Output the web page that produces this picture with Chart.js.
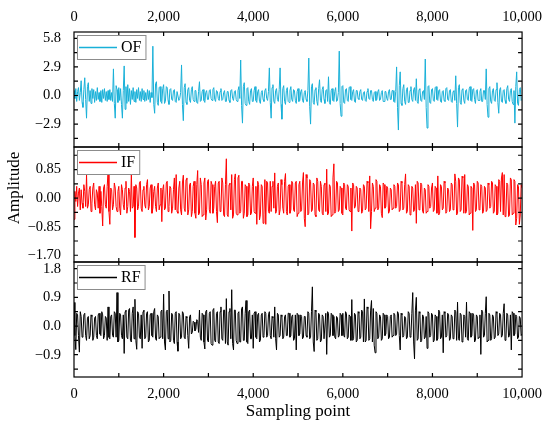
<!DOCTYPE html>
<html>
<head>
<meta charset="utf-8">
<title>Amplitude</title>
<script src="https://cdn.jsdelivr.net/npm/chart.js@4.4.1/dist/chart.umd.min.js"></script>
<style>
  html, body { margin: 0; padding: 0; background: #fff; }
  #senales { display: block; }
</style>
</head>
<body>
<canvas id="senales" width="550" height="426"></canvas>
<script>
// Señales (un valor cada 20 puntos de muestreo)
const pasoMuestreo = 20;

const valoresOF = [
  0.5, -0.3, 0.7, -0.6, 0.4, 0.8, -0.5, 0.3, 1.5, -0.7,
  -1.2, 0.6, 1.8, -0.4, -2.3, 0.9, 1.3, -0.6, 0.5, -0.8,
  0.7, -0.3, 0.6, -0.7, 0.4, -0.5, 0.8, -0.4, 0.3, -0.6,
  0.5, -0.7, 0.6, -0.3, 0.7, -0.5, 0.4, -0.6, 0.5, -0.4,
  0.6, -0.5, 0.3, -0.6, 2.7, -0.8, -2.3, 1.0, 0.6, -0.7,
  0.8, -0.5, 0.7, -0.9, -2.3, 0.5, 3.0, -1.4, 0.9, -0.8,
  1.1, -0.6, 0.7, -0.9, 0.5, -0.4, 0.8, -0.6, 0.4, -0.7,
  0.6, -0.3, 0.8, -0.5, 0.4, -0.6, 0.7, -0.4, 0.5, -0.6,
  0.3, -0.5, 0.6, -0.4, 0.5, -0.7, 0.3, -0.2, 5.0, -0.9,
  -1.8, 1.2, 1.4, -0.7, -1.0, 0.8, 0.9, -0.6, -0.8, 0.7,
  1.1, -0.8, -0.6, 0.9, 0.8, -0.5, -0.9, 0.6, 0.7, -0.4,
  -0.5, 0.5, 0.6, -0.6, -0.7, 0.4, 0.4, -0.5, -0.3, 0.3,
  3.1, -0.9, -2.55, 0.8, 1.2, -0.7, -0.9, 0.6, 0.8, -0.5,
  -0.7, 0.6, 0.9, -0.4, -0.6, 0.5, 0.5, -0.7, -0.8, 0.4,
  1.4, -0.6, -0.5, 0.4, 0.6, -0.5, -0.7, 0.3, 0.5, -0.4,
  -0.4, 0.5, 0.6, -0.3, -0.5, 0.6, 0.8, -0.4, -0.6, 0.5,
  0.4, -0.3, -0.5, 0.4, 0.7, -0.5, -0.4, 0.3, 0.5, -0.6,
  -0.6, 0.4, 0.4, -0.5, -0.7, 0.5, 0.6, -0.3, -0.5, 0.4,
  0.5, -0.4, -0.6, 0.5, 0.9, -0.3, 3.6, -1.0, -2.8, 0.9,
  1.3, -0.8, -1.0, 0.7, 0.8, -0.6, -0.9, 0.5, 0.7, -0.6,
  -0.6, 0.5, 0.9, -0.5, -0.7, 0.4, 0.6, -0.6, -0.8, 0.3,
  0.5, -0.4, -0.6, 0.5, 0.7, -0.3, -0.5, 0.4, 2.8, -0.7,
  -2.3, 0.8, 1.1, -0.6, -0.8, 0.5, 0.7, -0.4, -0.6, 0.6,
  2.8, -0.9, -2.4, 0.7, 1.0, -0.6, -0.9, 0.5, 0.8, -0.6,
  -0.7, 0.5, 0.9, -0.4, -0.6, 0.6, 0.5, -0.5, -0.8, 0.4,
  0.7, -0.6, -0.5, 0.4, 0.6, -0.5, -0.7, 0.3, 0.5, -0.4,
  -0.6, 0.5, 3.8, -1.1, -2.9, 0.9, 1.2, -0.7, -0.9, 0.6,
  0.8, -0.6, -1.0, 0.7, 1.6, -0.5, -0.7, 0.6, 0.9, -0.4,
  -0.8, 0.5, 0.6, -0.6, 1.9, -0.7, -0.9, 0.5, 0.7, -0.5,
  -0.6, 0.4, 0.8, -0.6, -0.5, 0.3, 4.5, -0.8, -2.1, 0.9,
  1.0, -0.7, -0.8, 0.6, 0.7, -0.5, -0.6, 0.8, 0.9, -0.4,
  -0.5, 0.4, 0.6, -0.6, -0.7, 0.5, 0.5, -0.3, -0.4, 0.4,
  0.6, -0.4, -0.5, 0.3, 0.4, -0.5, -0.6, 0.4, 0.7, -0.3,
  -0.4, 0.5, 0.5, -0.4, -0.6, 0.3, 0.4, -0.5, -0.4, 0.4,
  0.6, -0.5, -0.4, 0.3, 0.5, -0.6, -0.6, 0.4, 0.4, -0.3,
  -0.5, 0.4, 0.6, -0.4, -0.4, 0.5, 0.5, -0.6, -0.7, 0.4,
  2.9, -1.2, -3.5, 1.0, 2.4, -0.8, -1.0, 0.7, 1.1, -0.6,
  -0.9, 0.6, 0.8, -0.7, -0.7, 0.5, 0.9, -0.4, -0.6, 0.6,
  0.8, -0.5, 1.7, -0.6, -0.8, 0.6, 0.7, -0.5, -0.6, 0.4,
  0.5, -0.4, 3.7, -1.2, -3.3, 0.9, 1.0, -0.7, -0.8, 0.6,
  0.7, -0.5, -0.6, 0.8, 0.9, -0.4, -0.5, 0.5, 0.6, -0.6,
  -0.7, 0.4, 0.5, -0.5, -0.6, 0.7, 0.8, -0.4, -0.5, 0.5,
  0.6, -0.6, -0.7, 0.4, 0.5, -0.5, 2.0, -0.8, -3.2, 0.8,
  1.1, -0.7, -0.9, 0.6, 0.7, -0.5, -0.8, 0.5, 0.6, -0.4,
  -0.5, 0.7, 0.9, -0.5, -0.6, 0.6, 0.7, -0.4, -0.8, 0.5,
  0.6, -0.5, -0.5, 0.4, 0.7, -0.6, -0.6, 0.5, 0.5, -0.4,
  2.7, -0.9, -2.2, 0.7, 0.9, -0.6, -0.8, 0.5, 0.7, -0.5,
  -0.6, 0.6, 1.3, -0.7, -1.8, 0.6, 0.8, -0.6, -0.7, 0.5,
  0.6, -0.5, -0.8, 0.7, 1.0, -0.4, -0.6, 0.5, 0.7, -0.6,
  -0.9, 0.5, -2.8, 0.9, 2.4, -0.8, -1.0, 0.6, 0.8, -0.5,
  -0.4
];

const valoresIF = [
  -0.63, 0.2, -0.1, 0.35, -0.25, 0.15, 0.3, -0.35, 0.25, -0.15,
  -0.3, 0.4, 0.2, -0.25, 0.69, -0.3, -0.2, 0.25, 0.35, -0.4,
  -0.15, 0.3, 0.45, -0.2, -0.35, 0.25, 0.15, -0.3, 0.35, -0.45,
  0.2, -0.25, -0.83, 0.3, 0.4, -0.2, -0.3, 0.35, 0.74, -0.4,
  -0.78, 0.3, 0.25, -0.35, -0.2, 0.45, 0.3, -0.25, -0.4, 0.2,
  0.35, -0.3, -0.5, 0.4, 0.25, -0.2, -0.35, 0.3, 0.5, -0.45,
  -0.25, 0.3, 0.2, -0.4, 0.74, -0.3, -0.25, 0.35, -1.17, 0.4,
  0.3, -0.35, -0.25, 0.45, 0.5, -0.3, -0.4, 0.25, 0.35, -0.2,
  -0.3, 0.4, 0.55, -0.35, -0.25, 0.3, 0.4, -0.45, -0.3, 0.2,
  0.35, -0.25, -0.4, 0.3, 0.45, -0.35, -0.2, 0.3, -0.7, 0.25,
  0.4, -0.35, -0.3, 0.45, 0.5, -0.4, -0.25, 0.35, 0.3, -0.45,
  -0.3, 0.25, 0.6, -0.35, 0.7, -0.4, -0.45, 0.3, 0.5, -0.35,
  -0.5, 0.45, 0.68, -0.3, -0.4, 0.55, 0.6, -0.5, -0.35, 0.4,
  0.45, -0.55, -0.4, 0.35, 0.5, -0.45, -0.6, 0.4, 0.82, -0.5,
  -0.45, 0.6, 0.4, -0.55, -0.5, 0.45, 0.6, -0.65, -0.35, 0.5,
  0.55, -0.35, -0.45, 0.5, 0.4, -0.45, -0.3, 0.35, 0.5, -0.4,
  -0.73, 0.45, 0.5, -0.4, -0.35, 0.6, 0.45, -0.5, -0.55, 0.4,
  1.17, -0.5, -0.55, 0.4, 0.45, -0.35, 0.7, -0.6, -0.5, 0.55,
  0.72, -0.45, -0.5, 0.6, 0.68, -0.45, -0.4, 0.5, 0.5, -0.6,
  -0.45, 0.4, 0.35, -0.55, -0.5, 0.45, 0.4, -0.5, -0.45, 0.35,
  0.6, -0.4, -0.45, 0.35, -0.78, 0.5, 0.4, -0.65, -0.5, 0.4,
  0.35, -0.75, -0.5, 0.55, -0.78, 0.5, 0.45, -0.4, -0.45, 0.5,
  -0.4, 0.35, 0.5, -0.3, 0.75, -0.45, -0.4, 0.35, 0.45, -0.5,
  -0.35, 0.55, 0.4, -0.3, -0.45, 0.5, 0.73, -0.4, -0.5, 0.35,
  0.4, -0.45, -0.35, 0.5, 0.45, -0.35, -0.4, 0.45, 0.5, -0.55,
  -0.45, 0.4, 0.5, -0.4, -0.35, 0.45, 0.76, -0.6, -0.85, 0.7,
  0.6, -0.5, -0.45, 0.55, 0.5, -0.4, -0.35, 0.45, 0.4, -0.5,
  -0.55, 0.6, 0.5, -0.35, -0.4, 0.5, 0.35, -0.45, -0.5, 0.4,
  0.45, -0.4, 0.86, -0.5, -0.45, 0.4, 0.35, -0.55, -0.5, 0.6,
  1.02, -0.45, -0.4, 0.5, 0.45, -0.4, -0.35, 0.35, 0.3, -0.45,
  -0.5, 0.45, 0.4, -0.3, -0.35, 0.4, 0.35, -0.35, -0.4, 0.3,
  -0.98, 0.45, 0.4, -0.3, -0.25, 0.35, 0.3, -0.4, -0.35, 0.3,
  0.25, -0.45, -0.4, 0.4, 0.35, -0.35, -0.3, 0.5, 0.45, -0.4,
  0.66, -0.91, -0.4, 0.45, 0.35, -0.4, -0.3, 0.55, 0.5, -0.35,
  -0.3, 0.4, 0.35, -0.45, -0.58, 0.45, 0.4, -0.3, -0.25, 0.35,
  0.3, -0.45, -0.4, 0.3, 0.25, -0.35, -0.3, 0.4, 0.35, -0.3,
  -0.25, 0.45, 0.4, -0.4, -0.35, 0.5, 0.45, -0.35, -0.3, 0.4,
  0.72, -0.45, -0.4, 0.4, 0.35, -0.5, -0.45, 0.35, 0.3, -0.4,
  -0.35, 0.4, -0.75, 0.5, 0.45, -0.35, -0.3, 0.45, 0.4, -0.4,
  -0.45, 0.3, 0.25, -0.45, -0.4, 0.4, 0.35, -0.3, -0.25, 0.3,
  0.45, -0.4, -0.35, 0.35, 0.3, -0.45, 0.66, -0.5, -0.45, 0.4,
  0.35, -0.35, -0.3, 0.5, 0.45, -0.45, -0.4, 0.3, 0.25, -0.4,
  -0.35, 0.45, 0.4, -0.35, -0.3, 0.72, 0.5, -0.5, -0.45, 0.6,
  0.55, -0.4, -0.35, 0.65, 0.6, -0.45, 0.7, -0.45, -0.4, 0.4,
  0.35, -0.5, -0.45, 0.35, 0.3, -0.96, 0.45, 0.4, -0.4, -0.35,
  0.5, 0.45, -0.35, -0.3, 0.4, 0.35, -0.45, -0.4, 0.35, 0.3,
  -0.4, -0.35, 0.45, 0.4, -0.3, -0.25, 0.5, 0.45, -0.45, -0.4,
  0.4, 0.35, -0.5, -0.45, 0.55, 0.5, -0.4, 0.6, 0.76, -0.5,
  0.7, -0.55, -0.5, 0.45, 0.4, -0.55, -0.5, 0.6, 0.55, -0.5,
  -0.45, 0.55, 0.5, -0.8, -0.6, 0.4, 0.35, -0.78, -0.5, 0.4,
  0.3
];

const valoresRF = [
  0.74, -0.3, -0.74, 0.4, 0.35, -0.3, -0.82, 0.45, 0.3, -0.35,
  -0.25, 0.35, 0.4, -0.3, -0.45, 0.25, 0.3, -0.4, -0.3, 0.35,
  0.3, -0.45, -0.35, 0.25, 0.3, -0.3, -0.4, 0.35, 0.4, -0.25,
  -0.3, 0.45, 0.35, -0.4, -0.3, 0.3, 0.25, -0.45, 0.6, -0.35,
  -0.4, 0.3, 0.35, -0.3, -0.35, 0.45, 0.4, -0.35, 1.05, -0.5,
  -0.45, 0.4, 0.35, -0.3, -0.4, 0.35, -0.86, 0.45, 0.5, -0.35,
  -0.4, 0.5, 0.55, -0.45, -0.5, 0.4, 0.6, -0.4, 0.84, -0.45,
  -0.73, 0.45, 0.4, -0.35, -0.4, 0.35, -0.7, 0.45, 0.5, -0.4,
  -0.35, 0.4, 0.45, -0.5, -0.45, 0.35, 0.4, -0.3, -0.35, 0.45,
  0.55, -0.4, -0.45, 0.35, 0.3, -0.4, -0.35, 0.45, 0.5, -0.4,
  1.0, -0.5, -0.75, 0.45, 0.5, -0.4, 1.1, -0.5, -0.45, 0.4,
  0.35, -0.45, -0.55, 0.4, 0.45, -0.5, -0.79, 0.4, 0.35, -0.4,
  -0.35, 0.45, 0.4, -0.35, -0.4, 0.3, 0.25, -0.3, -0.7, 0.3,
  0.35, -0.25, -0.2, 0.15, 0.12, -0.15, -0.1, 0.2, 0.15, -0.2,
  0.5, -0.35, -0.45, 0.4, 0.35, -0.5, -0.72, 0.45, 0.5, -0.45,
  -0.5, 0.4, 0.45, -0.55, -0.6, 0.5, 0.55, -0.45, -0.5, 0.4,
  0.45, -0.5, -0.55, 0.45, 0.6, -0.4, -0.45, 0.5, 0.5, -0.55,
  0.86, -0.5, -0.6, 0.45, 0.55, -0.4, 1.14, -0.55, -0.75, 0.5,
  0.5, -0.45, -0.55, 0.4, 0.45, -0.5, -0.5, 0.55, 0.6, -0.45,
  -0.45, 0.4, 0.8, -0.5, -0.55, 0.45, 0.5, -0.4, -0.4, 0.35,
  -0.7, 0.4, 0.45, -0.35, -0.4, 0.35, 0.4, -0.5, -0.45, 0.35,
  0.4, -0.35, -0.3, 0.45, 0.4, -0.35, -0.3, 0.35, 0.45, -0.3,
  -0.4, 0.3, 0.25, -0.35, 0.6, -0.4, -0.75, 0.4, 0.35, -0.35,
  -0.3, 0.35, 0.3, -0.4, -0.35, 0.3, 0.35, -0.3, -0.3, 0.4,
  0.4, -0.35, -0.3, 0.3, 0.35, -0.45, -0.4, 0.35, -0.75, 0.4,
  0.35, -0.3, -0.25, 0.35, 0.3, -0.4, -0.35, 0.3, 0.3, -0.3,
  -0.35, 0.45, 0.4, -0.4, -0.35, 0.45, 1.23, -0.5, -0.8, 0.5,
  0.45, -0.45, -0.4, 0.4, 0.35, -0.5, -0.45, 0.35, 0.3, -0.4,
  -0.4, 0.4, -0.89, 0.45, 0.4, -0.35, -0.3, 0.4, 0.35, -0.3,
  0.3, -0.35, -0.4, 0.3, 0.25, -0.35, -0.3, 0.4, 0.35, -0.3,
  0.4, -0.3, -0.35, 0.45, 0.4, -0.4, -0.35, 0.35, 0.3, -0.45,
  0.83, -0.45, -0.4, 0.4, 0.35, -0.5, -0.45, 0.45, 0.4, -0.4,
  -0.35, 0.5, 0.45, -0.5, 0.85, -0.5, -0.45, 0.6, 0.55, -0.45,
  -0.4, 0.5, 0.8, -0.5, 0.55, -0.6, -0.84, 0.45, 0.4, -0.4,
  -0.35, 0.35, 0.3, -0.45, -0.4, 0.4, 0.35, -0.3, -0.25, 0.35,
  0.3, -0.4, -0.35, 0.3, 0.35, -0.35, -0.3, 0.4, 0.35, -0.3,
  -0.25, 0.45, 0.4, -0.3, -0.75, 0.4, 0.35, -0.35, -0.3, 0.3,
  0.25, -0.4, -0.35, 0.45, 0.4, -0.35, -0.3, 0.4, 1.05, -0.5,
  -1.03, 0.5, 0.9, -0.45, -0.4, 0.45, 0.4, -0.5, -0.45, 0.35,
  0.3, -0.4, -0.35, 0.3, -0.7, 0.45, 0.4, -0.35, -0.3, 0.4,
  0.35, -0.5, -0.45, 0.35, 0.3, -0.45, -0.4, 0.5, 0.45, -0.4,
  -0.35, 0.35, -0.84, 0.45, 0.4, -0.35, -0.3, 0.4, 0.35, -0.45,
  -0.4, 0.35, 0.3, -0.4, -0.35, 0.5, 0.45, -0.45, 0.75, -0.4,
  -0.45, 0.4, 0.35, -0.5, -0.45, 0.35, 0.3, -0.35, 0.75, -0.4,
  -0.45, 0.45, 0.4, -0.35, -0.3, 0.4, 0.35, -0.5, -0.45, 0.35,
  0.3, -0.4, -0.35, 0.35, -0.89, 0.5, 0.45, -0.35, -0.3, 0.4,
  0.92, -0.5, -0.45, 0.4, 0.35, -0.45, -0.4, 0.35, 0.3, -0.4,
  -0.35, 0.45, 0.4, -0.3, -0.25, 0.4, 0.35, -0.35, -0.3, 0.4,
  0.7, -0.45, -0.4, 0.4, 0.35, -0.35, -0.3, 0.35, -0.75, 0.45,
  0.4, -0.3, -0.25, 0.35, 0.3, -0.4, -0.35, 0.3, 0.25, -0.3,
  -0.25
];

// Etiquetas de los ejes
const xTicks = [0, 2000, 4000, 6000, 8000, 10000];
const ofTicks = [-2.9, 0.0, 2.9, 5.8];
const ifTicks = [-1.70, -0.85, 0.00, 0.85];
const rfTicks = [-0.9, 0.0, 0.9, 1.8];

const fuente = '"Liberation Serif", "Times New Roman", serif';
Chart.defaults.font.family = fuente;
Chart.defaults.color = '#000';

const aPuntos = valores => valores.map((v, i) => ({ x: i * pasoMuestreo, y: v }));
const signo = (v, dec) => v.toFixed(dec).replace('-', '\u2212');

// Paneles de arriba abajo
const paneles = [
  { id: 'yOF', nombre: 'OF', color: 'rgb(24,176,216)', datos: valoresOF, ticks: ofTicks, dec: 1, min: -5.22, max: 6.44, menor: 1.45 },
  { id: 'yIF', nombre: 'IF', color: '#ff0000', datos: valoresIF, ticks: ifTicks, dec: 2, min: -1.90, max: 1.52, menor: 0.425 },
  { id: 'yRF', nombre: 'RF', color: '#000000', datos: valoresRF, ticks: rfTicks, dec: 1, min: -1.60, max: 2.01, menor: 0.45 }
];

const ejeY = p => ({
  type: 'linear',
  position: 'left',
  stack: 'senal',
  stackWeight: 1,
  min: p.min,
  max: p.max,
  grid: { display: false, drawTicks: false },
  border: { display: false },
  afterBuildTicks: s => { s.ticks = p.ticks.map(v => ({ value: v })); },
  afterFit: s => { s.width = 74; },
  ticks: {
    padding: 13,
    font: { size: 14.5 },
    callback: v => signo(v, p.dec)
  }
});

const ejeX = (posicion, alto, relleno, extra) => Object.assign({
  type: 'linear',
  position: posicion,
  min: 0,
  max: 10000,
  grid: { display: false, drawTicks: false },
  border: { display: false },
  afterBuildTicks: s => { s.ticks = xTicks.map(v => ({ value: v })); },
  afterFit: s => { s.height = alto; },
  ticks: {
    padding: relleno,
    maxRotation: 0,
    font: { size: 14.5 },
    callback: v => v.toLocaleString('en-US')
  }
}, extra);

// Marcos, marcas interiores y leyendas de cada panel
const marcoPaneles = {
  id: 'marcoPaneles',
  afterDatasetsDraw(chart) {
    const { ctx, chartArea: area, scales } = chart;
    const ex = scales.x;
    ctx.save();
    paneles.forEach((p, k) => {
      const ey = scales[p.id];
      const top = ey.top, bottom = ey.bottom;

      ctx.strokeStyle = '#000';
      ctx.lineWidth = 1.2;
      ctx.strokeRect(area.left, top, area.right - area.left, bottom - top);
      ctx.beginPath();
      for (let v = 1000; v < 10000; v += 1000) {
        const px = ex.getPixelForValue(v);
        ctx.moveTo(px, top); ctx.lineTo(px, top + 4);
        ctx.moveTo(px, bottom); ctx.lineTo(px, bottom - 4);
      }
      const inicio = Math.ceil(ey.min / p.menor - 1e-6);
      for (let n = inicio; n * p.menor <= ey.max + 1e-9; n++) {
        const py = ey.getPixelForValue(n * p.menor);
        if (py <= top + 1 || py >= bottom - 1) continue;
        ctx.moveTo(area.left, py); ctx.lineTo(area.left + 4, py);
        ctx.moveTo(area.right, py); ctx.lineTo(area.right - 4, py);
      }
      ctx.stroke();

      // leyenda
      ctx.font = '16px ' + fuente;
      const bx = area.left + 3, by = top + 3, bh = 24;
      const bw = 44 + ctx.measureText(p.nombre).width + 4;
      ctx.fillStyle = '#fff';
      ctx.fillRect(bx, by, bw, bh);
      ctx.strokeStyle = '#8c8c8c';
      ctx.lineWidth = 1;
      ctx.strokeRect(bx + 0.5, by + 0.5, bw, bh);
      ctx.strokeStyle = p.color;
      ctx.lineWidth = 1.5;
      ctx.beginPath();
      ctx.moveTo(bx + 2, by + bh / 2 + 0.5);
      ctx.lineTo(bx + 40, by + bh / 2 + 0.5);
      ctx.stroke();
      ctx.fillStyle = '#000';
      ctx.textAlign = 'left';
      ctx.textBaseline = 'middle';
      ctx.fillText(chart.data.datasets[k].label, bx + 44, by + bh / 2 + 1);
    });

    // título del eje Y
    ctx.translate(15, 188);
    ctx.rotate(-Math.PI / 2);
    ctx.font = '17px ' + fuente;
    ctx.textAlign = 'center';
    ctx.textBaseline = 'middle';
    ctx.fillStyle = '#000';
    ctx.fillText('Amplitude', 0, 0);
    ctx.restore();
  }
};

const escalas = {
  x: ejeX('bottom', 45, 8, { title: { display: true, text: 'Sampling point', font: { size: 17 }, padding: { top: 0, bottom: 0 } } }),
  xTop: ejeX('top', 32, 6, {})
};
// Chart.js apila los ejes con el último arriba: se añaden de abajo arriba
[paneles[2], paneles[1], paneles[0]].forEach(p => { escalas[p.id] = ejeY(p); });

new Chart(document.getElementById('senales'), {
  type: 'line',
  data: {
    datasets: paneles.map(p => ({
      label: p.nombre,
      data: aPuntos(p.datos),
      xAxisID: 'x',
      yAxisID: p.id,
      borderColor: p.color,
      borderWidth: 1,
      pointRadius: 0,
      tension: 0,
      fill: false
    }))
  },
  options: {
    responsive: false,
    animation: false,
    layout: { padding: { right: 26, bottom: 4 } },
    plugins: { legend: { display: false }, tooltip: { enabled: false } },
    scales: escalas
  },
  plugins: [marcoPaneles]
});
</script>
</body>
</html>
